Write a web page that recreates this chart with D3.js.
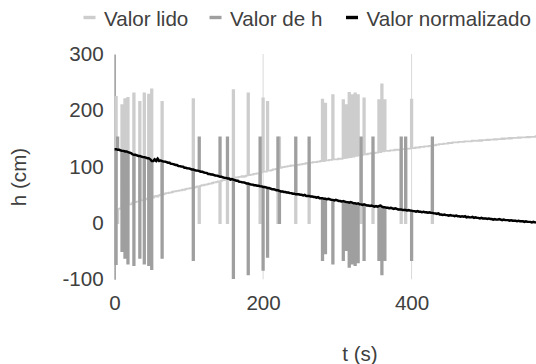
<!DOCTYPE html>
<html>
<head>
<meta charset="utf-8">
<script src="https://cdn.jsdelivr.net/npm/d3@7"></script>
<style>
  body { margin: 0; background: #fff; }
  #grafico { margin: 0; }
  svg { display: block; font-family: "Liberation Sans", Arial, sans-serif; }
</style>
</head>
<body>
<figure id="grafico"></figure>
<script>
// amostras a cada 2 s, t = 0 .. 570 s
const passo = 2;

const valorLido = [
  22,224,0,25,26,209,28,220,31,222,
  33,33,35,230,37,38,38,215,40,40,
  230,42,43,228,45,237,45,47,48,47,
  49,50,215,51,52,53,53,54,54,55,
  56,56,57,57,58,58,59,59,60,61,
  61,62,62,220,63,64,65,0,66,67,
  67,68,68,69,70,70,71,72,72,73,
  74,0,75,76,76,77,0,78,79,79,
  236,80,81,81,82,82,83,82,83,84,
  230,85,86,86,87,87,88,88,0,90,
  221,91,91,215,93,93,94,95,95,96,
  0,152,98,99,99,100,100,101,101,102,
  102,102,0,103,103,104,104,105,105,106,
  106,0,107,107,108,108,108,109,109,110,
  219,110,212,111,111,112,112,227,113,113,
  113,114,114,114,218,115,209,116,231,117,
  227,118,230,119,227,120,0,121,221,122,
  122,123,123,124,0,124,125,125,218,126,
  246,127,218,128,128,128,129,129,129,130,
  130,130,130,0,131,131,0,132,132,132,
  219,133,133,134,134,134,135,135,135,136,
  136,136,137,137,0,138,138,139,139,140,
  140,140,141,141,141,142,142,142,143,143,
  143,143,144,144,144,144,145,145,145,145,
  145,146,146,146,146,146,147,146,147,147,
  147,148,147,148,148,148,149,148,149,149,
  149,150,149,150,150,150,151,150,151,151,
  151,151,152,151,152,152,152,152,153,152,
  153,153,153,153,154,154
];

const valorDeH = [
  131,-73,152,130,129,-50,128,-62,127,-72,
  125,124,122,-75,121,120,119,-62,118,117,
  -72,116,115,-75,113,-82,110,113,110,114,
  110,111,-62,109,109,108,107,107,105,105,
  104,103,103,101,101,100,100,98,98,97,
  97,96,95,-66,94,93,93,152,91,91,
  90,89,89,87,87,86,86,85,84,84,
  83,152,82,81,80,80,152,79,77,78,
  -98,76,75,75,73,73,72,72,71,70,
  -91,69,68,68,67,67,66,66,152,65,
  -83,64,63,-60,62,61,60,60,59,58,
  152,0,56,56,55,55,54,54,53,53,
  52,52,152,51,51,50,50,49,50,48,
  48,152,47,47,46,46,45,46,44,44,
  -66,43,-54,42,43,42,41,-72,40,41,
  40,39,39,38,-66,38,-48,37,-78,37,
  -72,35,-75,34,-70,33,152,32,-66,32,
  31,31,30,31,152,29,30,29,-66,31,
  -91,28,-66,27,27,26,27,26,25,26,
  25,24,24,152,23,23,152,22,23,22,
  -66,21,21,20,21,20,20,19,20,19,
  19,18,19,18,152,17,17,16,17,15,
  15,14,15,14,14,13,14,13,13,12,
  13,12,12,11,12,11,12,10,11,10,
  10,11,9,10,9,9,8,9,8,8,
  8,7,8,7,7,6,7,6,6,7,
  6,5,6,5,5,5,4,5,4,4,
  4,3,4,3,3,3,2,3,2,2,
  2,1,2,1,1,1
];

const valorNormalizado = [
  131,131,130,130,129,128,128,127,127,126,
  125,124,122,121,121,120,119,119,118,117,
  117,116,115,115,113,110,110,113,110,114,
  110,111,110,109,109,108,107,107,105,105,
  104,103,103,101,101,100,100,98,98,97,
  97,96,95,95,94,93,93,92,91,91,
  90,89,89,87,87,86,86,85,84,84,
  83,82,82,81,80,80,79,79,77,78,
  77,76,75,75,73,73,72,72,71,70,
  70,69,68,68,67,67,66,66,65,65,
  64,64,63,62,62,61,60,60,59,58,
  58,57,56,56,55,55,54,54,53,53,
  52,52,51,51,51,50,50,49,50,48,
  48,48,47,47,46,46,45,46,44,44,
  44,43,43,42,43,42,41,41,40,41,
  40,39,39,38,39,38,37,37,36,37,
  36,35,35,34,35,33,33,32,33,32,
  31,31,30,31,30,29,30,29,30,31,
  29,28,28,27,27,26,27,26,25,26,
  25,24,24,24,23,23,23,22,23,22,
  22,21,21,20,21,20,20,19,20,19,
  19,18,19,18,18,17,17,16,17,15,
  15,14,15,14,14,13,14,13,13,12,
  13,12,12,11,12,11,12,10,11,10,
  10,11,9,10,9,9,8,9,8,8,
  8,7,8,7,7,6,7,6,6,7,
  6,5,6,5,5,5,4,5,4,4,
  4,3,4,3,3,3,2,3,2,2,
  2,1,2,1,1,1
];

const nomesSeries = ["Valor lido", "Valor de h", "Valor normalizado"];
const ticksX = [0, 200, 400];
const ticksY = [-100, 0, 100, 200, 300];

const cores = ["#cdcdcd", "#9f9f9f", "#000000"];
const larguras = [1.8, 1.8, 2.4];
const curvas = [d3.curveStep, d3.curveStep, d3.curveLinear];
const posLegenda = [83.5, 209.5, 346];
const series = [valorLido, valorDeH, valorNormalizado].map((v, k) => ({
  nome: nomesSeries[k], valores: v, cor: cores[k], largura: larguras[k], curva: curvas[k]
}));

const largura = 536, altura = 364;
const fonte = '"Liberation Sans", Arial, sans-serif';
const tamFonte = 20.6;
const corTexto = "#404040";

const svg = d3.select("#grafico")
  .append("svg")
  .attr("width", largura)
  .attr("height", altura);

const x = d3.scaleLinear().domain([0, 600]).range([114.6, 560.1]);
const y = d3.scaleLinear().domain([-100, 300]).range([279.3, 54]);

// grade vertical
svg.append("g")
  .selectAll("line")
  .data(ticksX.filter(d => d > 0))
  .enter()
  .append("line")
  .attr("x1", d => x(d))
  .attr("x2", d => x(d))
  .attr("y1", y(300))
  .attr("y2", y(-100))
  .attr("stroke", "#d9d9d9")
  .attr("stroke-width", 1);

// eixo y
const eixoY = svg.append("g")
  .attr("transform", "translate(" + x(0) + ",0)")
  .call(d3.axisLeft(y).tickValues(ticksY).tickSize(0).tickPadding(11).tickFormat(d => String(d)));
eixoY.attr("font-size", tamFonte).attr("font-family", fonte);
eixoY.select(".domain").attr("stroke", "#8a8a8a").attr("stroke-width", 1.3);
eixoY.selectAll("text").attr("fill", corTexto);

// eixo x (sem linha)
const eixoX = svg.append("g")
  .attr("transform", "translate(0," + y(-100) + ")")
  .call(d3.axisBottom(x).tickValues(ticksX).tickSize(0).tickPadding(16).tickFormat(d => String(d)));
eixoX.attr("font-size", tamFonte).attr("font-family", fonte);
eixoX.select(".domain").remove();
eixoX.selectAll("text").attr("fill", corTexto);

// linhas
svg.append("g")
  .selectAll("path")
  .data(series)
  .enter()
  .append("path")
  .attr("d", d => d3.line()
    .x((v, i) => x(i * passo))
    .y(v => y(v))
    .curve(d.curva)(d.valores))
  .attr("fill", "none")
  .attr("stroke", d => d.cor)
  .attr("stroke-width", d => d.largura);

// legenda
const legenda = svg.append("g").attr("font-family", fonte).attr("font-size", tamFonte);
series.forEach((s, k) => {
  const lx = posLegenda[k];
  legenda.append("line")
    .attr("x1", lx).attr("x2", lx + 12)
    .attr("y1", 17.5).attr("y2", 17.5)
    .attr("stroke", s.cor)
    .attr("stroke-width", 3.4);
  legenda.append("text")
    .attr("x", lx + 20.5)
    .attr("y", 26)
    .attr("fill", corTexto)
    .text(s.nome);
});

// títulos dos eixos
svg.append("text")
  .attr("x", 360)
  .attr("y", 361)
  .attr("text-anchor", "middle")
  .attr("font-family", fonte)
  .attr("font-size", tamFonte)
  .attr("fill", corTexto)
  .text("t (s)");

svg.append("text")
  .attr("transform", "translate(26,177) rotate(-90)")
  .attr("text-anchor", "middle")
  .attr("font-family", fonte)
  .attr("font-size", tamFonte)
  .attr("fill", corTexto)
  .text("h (cm)");
</script>
</body>
</html>
